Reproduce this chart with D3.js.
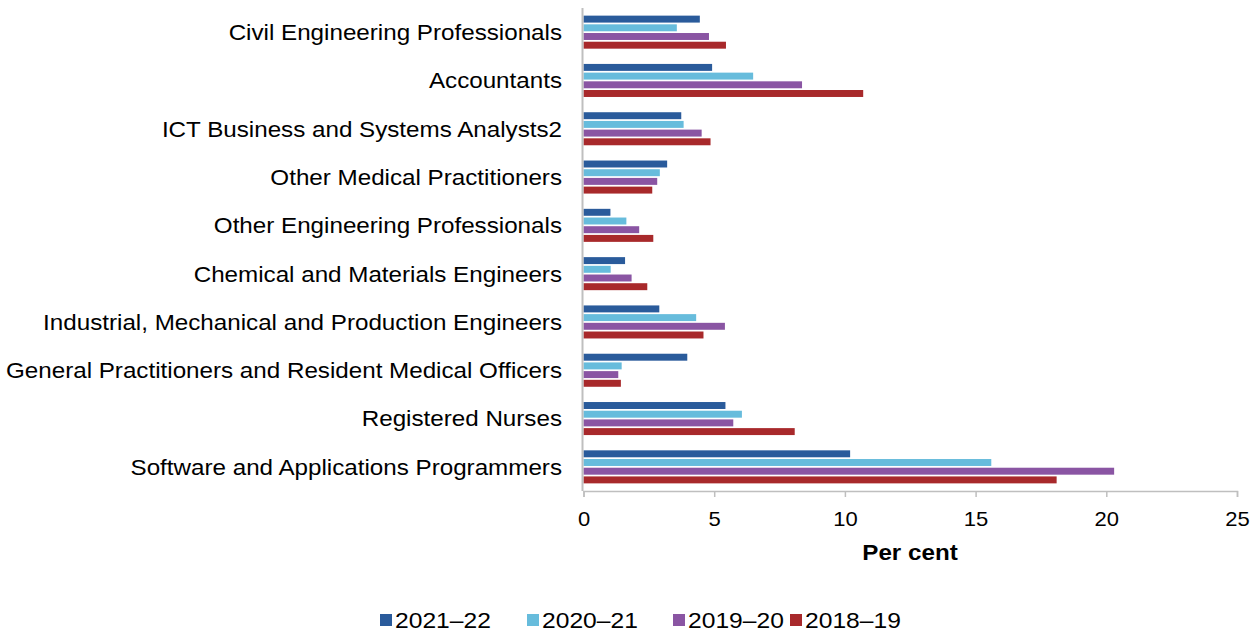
<!DOCTYPE html>
<html><head><meta charset="utf-8">
<script src="https://cdn.jsdelivr.net/npm/d3@7"></script>
<style>body{margin:0;background:#fff;} svg{display:block;} text{font-family:"Liberation Sans",Arial,sans-serif;fill:#000;}</style>
</head><body>
<svg id="c" width="1258" height="634"></svg>
<script>
const categories = ["Civil Engineering Professionals","Accountants","ICT Business and Systems Analysts2","Other Medical Practitioners","Other Engineering Professionals","Chemical and Materials Engineers","Industrial, Mechanical and Production Engineers","General Practitioners and Resident Medical Officers","Registered Nurses","Software and Applications Programmers"];
const seriesNames = ["2021–22","2020–21","2019–20","2018–19"];
const colors = ["#2a5b9b","#67bcdc","#8a55a3","#a8292b"];
const v2021_22 = [4.45,4.92,3.74,3.20,1.03,1.59,2.90,3.97,5.43,10.2];
const v2020_21 = [3.57,6.49,3.83,2.92,1.64,1.04,4.31,1.46,6.06,15.6];
const v2019_20 = [4.80,8.36,4.52,2.82,2.13,1.84,5.41,1.33,5.73,20.3];
const v2018_19 = [5.45,10.70,4.86,2.63,2.67,2.44,4.59,1.43,8.08,18.1];
const xTicks = [0,5,10,15,20,25];
const seriesValues = [v2021_22,v2020_21,v2019_20,v2018_19];

const SX = 1.1;
const svg = d3.select("#c");
const x = d3.scaleLinear().domain([0,25]).range([583.5,1237]);
const y = d3.scaleBand().domain(categories).range([8,491]).paddingInner(0.28).paddingOuter(0.14);
const ys = d3.scaleBand().domain(seriesNames).range([0,y.bandwidth()]).paddingInner(0.2).paddingOuter(0.1);

const g = svg.append("g");
categories.forEach((c,i)=>{
  seriesNames.forEach((s,j)=>{
    g.append("rect").attr("x",x(0)).attr("y",y(c)+ys(s))
     .attr("width",x(seriesValues[j][i])-x(0)).attr("height",ys.bandwidth())
     .attr("fill",colors[j]);
  });
});

// x axis
const xa = svg.append("g").attr("transform","translate(0,491)")
  .call(d3.axisBottom(x).tickValues(xTicks).tickSize(6).tickFormat(d3.format("d")));
xa.select(".domain").attr("stroke","#bfbfbf").attr("stroke-width",1.5);
xa.selectAll(".tick line").attr("stroke","#bfbfbf").attr("stroke-width",1.5);
xa.selectAll(".tick text").attr("font-size",20).attr("y",0).attr("dy",0)
  .attr("transform",`translate(0,35) scale(${SX},1)`).style("font-family","Liberation Sans, Arial, sans-serif");

// y axis line
svg.append("line").attr("x1",x(0)-1).attr("x2",x(0)-1).attr("y1",8).attr("y2",491)
  .attr("stroke","#bfbfbf").attr("stroke-width",2);

// category labels
svg.append("g").selectAll("text").data(categories).join("text")
  .attr("transform",d=>`translate(562,${y(d)+y.bandwidth()/2}) scale(${SX},1)`)
  .attr("dy","0.36em").attr("text-anchor","end").attr("font-size",22).text(d=>d);

// axis title
svg.append("text").attr("transform",`translate(910,560) scale(${SX},1)`).attr("text-anchor","middle")
  .attr("font-size",22).attr("font-weight","bold").text("Per cent");

// legend
const lx = [380,527,673,790];
const leg = svg.append("g");
seriesNames.forEach((s,j)=>{
  leg.append("rect").attr("x",lx[j]).attr("y",614).attr("width",12).attr("height",12).attr("fill",colors[j]);
  leg.append("text").attr("transform",`translate(${lx[j]+15},628) scale(1.12,1)`).attr("font-size",22).text(s);
});
</script>
</body></html>
